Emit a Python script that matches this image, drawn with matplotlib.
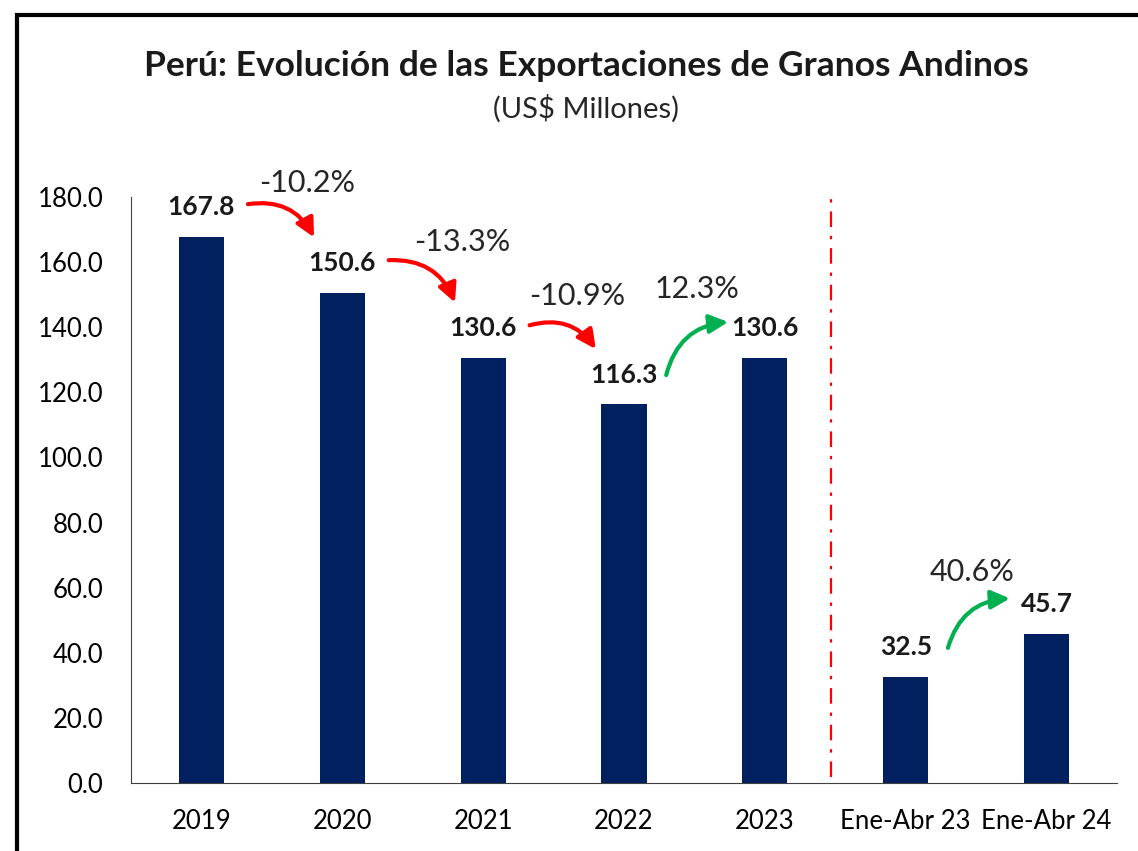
# Peru Andean grains exports bar chart
import matplotlib.pyplot as plt
from matplotlib.patches import Rectangle

categories = ['2019', '2020', '2021', '2022', '2023', 'Ene-Abr 23', 'Ene-Abr 24']
values = [167.8, 150.6, 130.6, 116.3, 130.6, 32.5, 45.7]
y_ticks = [0, 20, 40, 60, 80, 100, 120, 140, 160, 180]

# variation arrows: (from index, to index, label)
changes = [(0, 1, '-10.2%'), (1, 2, '-13.3%'), (2, 3, '-10.9%'), (3, 4, '12.3%'), (5, 6, '40.6%')]
# placement of the % labels relative to the starting bar (dx in bars, dy in data units)
label_off = [(0.75, 16.5), (0.85, 15.5), (0.67, 19), (0.52, 21), (0.47, 19)]

plt.rcParams['font.family'] = ['Lato', 'DejaVu Sans']

fig = plt.figure(figsize=(11.38, 8.51), dpi=100)
ax = fig.add_axes([0.1151, 0.0799, 0.8664, 0.6886])

x = range(len(categories))
ax.bar(x, values, width=0.32, color='#002060')
ax.set_xlim(-0.5, len(categories) - 0.5)
ax.set_ylim(0, 180)
ax.set_yticks(y_ticks)
ax.set_yticklabels([f'{v:.1f}' for v in y_ticks], fontsize=18.5)
ax.set_xticks(list(x))
ax.set_xticklabels(categories, fontsize=18.5)
ax.tick_params(axis='y', length=0, pad=20)
ax.tick_params(axis='x', length=0, pad=19)
for s in ['top', 'right']:
    ax.spines[s].set_visible(False)
ax.spines['left'].set_color('#404040')
ax.spines['bottom'].set_color('#404040')

for i, v in enumerate(values):
    ax.annotate(f'{v:.1f}', (i, v), xytext=(0, 21.5), textcoords='offset points',
                ha='center', va='center', fontsize=19, fontweight='bold', color='#1a1a1a')

# separator between annual and partial-year data
ax.axvline(4.47, ymin=0.01, ymax=1.0, color='#FF0000', lw=1.6, ls=(0, (7, 4, 1.5, 4)))

for (a, b, lab), (dx, dy) in zip(changes, label_off):
    up = values[b] > values[a]
    col = '#00B050' if up else '#FF0000'
    if up:
        start = (a + 0.3, values[a] + 9)
        end = (a + 0.74, values[b] + 11)
    else:
        start = (a + 0.33, values[a] + 10)
        end = (a + 0.8, values[b] + 17)
    ax.annotate('', xy=end, xytext=start, annotation_clip=False,
                arrowprops=dict(arrowstyle='-|>', color=col, lw=3, mutation_scale=28,
                                connectionstyle='arc3,rad=-0.35', shrinkA=0, shrinkB=0))
    ax.text(a + dx, max(values[a], values[b]) + dy, lab,
            ha='center', va='center', fontsize=22, color='#262626')

fig.text(0.515, 0.922, 'Perú: Evolución de las Exportaciones de Granos Andinos',
         ha='center', va='center', fontsize=25.5, fontweight='bold', color='#1a1a1a')
fig.text(0.515, 0.872, '(US$ Millones)', ha='center', va='center', fontsize=21, color='#262626')

fig.add_artist(Rectangle((0.015, -0.1), 1.2, 1.082, transform=fig.transFigure,
                         fill=False, edgecolor='black', lw=3))

fig.savefig('out.png', dpi=100)
